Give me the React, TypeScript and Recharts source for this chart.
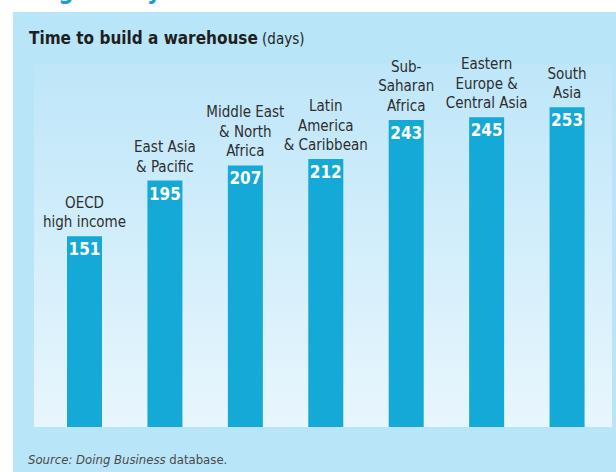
import { BarChart, Bar, XAxis, YAxis, CartesianGrid, LabelList } from "recharts";

const CATEGORIES = [
  "OECD\nhigh income",
  "East Asia\n& Pacific",
  "Middle East\n& North\nAfrica",
  "Latin\nAmerica\n& Caribbean",
  "Sub-\nSaharan\nAfrica",
  "Eastern\nEurope &\nCentral Asia",
  "South\nAsia",
];

const DAYS = [151, 195, 207, 212, 243, 245, 253];

const FONT = "'DejaVu Sans Condensed', 'DejaVu Sans', sans-serif";

const chartData = CATEGORIES.map((name, i) => ({ name, days: DAYS[i] }));

function ValueLabel(props: any) {
  const { x, y, width, value } = props;
  return (
    <text
      x={x + width / 2}
      y={y + 19}
      textAnchor="middle"
      fill="#ffffff"
      fontFamily={FONT}
      fontWeight="bold"
      fontSize={17}
    >
      {value}
    </text>
  );
}

function CategoryLabel(props: any) {
  const { x, y, width, index } = props;
  const lines = CATEGORIES[index].split("\n");
  const n = lines.length;
  return (
    <text textAnchor="middle" fill="#2e2e2e" fontFamily={FONT} fontSize={15}>
      {lines.map((line, i) => (
        <tspan key={i} x={x + width / 2} y={y - 9 - 19.5 * (n - 1 - i)}>
          {line}
        </tspan>
      ))}
    </text>
  );
}

export default function App() {
  return (
    <div
      style={{
        position: "fixed",
        left: 0,
        top: 0,
        width: 616,
        height: 472,
        overflow: "hidden",
        background: "#ffffff",
      }}
    >
      <svg width={0} height={0} style={{ position: "absolute" }}>
        <defs>
          <linearGradient id="plotGrad" x1="0" y1="0" x2="0" y2="1">
            <stop offset="0%" stopColor="#bee6f9" />
            <stop offset="100%" stopColor="#e8f6fd" />
          </linearGradient>
        </defs>
      </svg>
      <div
        style={{
          position: "absolute",
          left: 13,
          top: 12,
          right: 0,
          bottom: 0,
          background: "#b9e5f8",
        }}
      />
      <svg width={616} height={472} style={{ position: "absolute", left: 0, top: 0 }}>
        <text x={27} y={-1} fill="#1a9ad6" fontFamily={FONT} fontWeight="bold" fontSize={24}>
          Regulatory
        </text>
        <text x={29} y={44} fill="#1f1f1f" fontFamily={FONT}>
          <tspan fontWeight="bold" fontSize={17}>Time to build a warehouse</tspan>
          <tspan fontSize={15}> (days)</tspan>
        </text>
        <text x={28} y={464} fill="#4a4a4a" fontFamily={FONT} fontSize={13}>
          <tspan fontStyle="italic">Source: Doing Business</tspan>
          <tspan> database.</tspan>
        </text>
      </svg>
      <div style={{ position: "absolute", left: 0, top: 0 }}>
        <BarChart
          width={616}
          height={472}
          data={chartData}
          margin={{ top: 63, right: 4, left: 34, bottom: 45 }}
        >
          <CartesianGrid horizontal={false} vertical={false} fill="url(#plotGrad)" stroke="none" />
          <XAxis
            dataKey="name"
            tick={false}
            tickLine={false}
            height={0}
            padding={{ left: 10, right: 5 }}
            axisLine={{ stroke: "#3b4751", strokeWidth: 2 }}
          />
          <YAxis hide domain={[0, 288]} />
          <Bar dataKey="days" fill="#14a9d6" barSize={35} isAnimationActive={false}>
            <LabelList dataKey="days" content={ValueLabel} />
            <LabelList dataKey="name" content={CategoryLabel} />
          </Bar>
        </BarChart>
      </div>
    </div>
  );
}
